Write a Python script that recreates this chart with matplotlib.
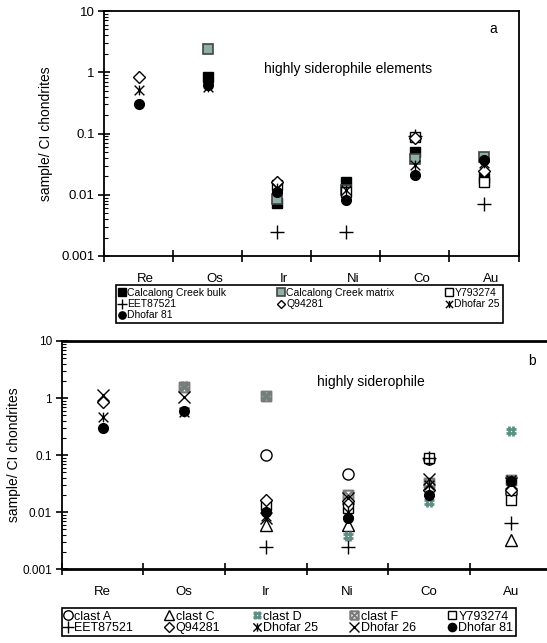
import numpy as np
import matplotlib
matplotlib.use("Agg")
import matplotlib.pyplot as plt
from matplotlib.path import Path

plt.rcParams['font.family'] = ['Liberation Sans', 'DejaVu Sans']

elements = ['Re', 'Os', 'Ir', 'Ni', 'Co', 'Au']
nan = np.nan

# panel a: sample / CI chondrites
a_cc_bulk = [nan, 0.83, 0.0072, 0.016, 0.050, 0.019]
a_cc_matrix = [nan, 2.4, 0.0085, 0.012, 0.039, 0.042]
a_y793274 = [nan, nan, 0.0145, 0.011, 0.088, 0.016]
a_eet87521 = [nan, nan, 0.0025, 0.0025, 0.092, 0.0071]
a_q94281 = [0.85, nan, 0.016, nan, 0.085, 0.024]
a_dhofar25 = [0.51, 0.58, 0.013, 0.012, 0.031, 0.033]
a_dhofar81 = [0.30, 0.63, 0.011, 0.0082, 0.021, 0.037]

# panel b
b_clast_a = [nan, nan, 0.10, 0.047, 0.085, 0.022]
b_clast_c = [nan, nan, 0.0059, 0.006, nan, 0.0032]
b_clast_d = [nan, 1.6, 1.1, 0.0038, 0.015, 0.26]
b_clast_f = [nan, 1.55, 1.1, 0.020, 0.033, 0.037]
b_y793274 = [nan, nan, 0.0135, 0.012, 0.088, 0.0164]
b_eet87521 = [nan, nan, 0.0025, 0.0025, 0.090, 0.0066]
b_q94281 = [0.84, nan, 0.0163, 0.016, 0.025, 0.025]
b_dhofar25 = [0.47, 0.58, 0.0085, 0.010, 0.030, 0.036]
b_dhofar26 = [1.13, 1.06, 0.008, 0.018, 0.038, 0.033]
b_dhofar81 = [0.295, 0.60, 0.0102, 0.008, 0.020, 0.035]

M, L = Path.MOVETO, Path.LINETO
star_x = Path([(-1, -1), (1, 1), (-1, 1), (1, -1), (0, -1), (0, 1)],
              [M, L, M, L, M, L])
hash_m = Path([(-1, -0.4), (1, -0.4), (-1, 0.4), (1, 0.4),
               (-0.4, -1), (-0.4, 1), (0.4, -1), (0.4, 1)],
              [M, L, M, L, M, L, M, L])
box_x = Path([(-1, -1), (1, -1), (1, 1), (-1, 1), (-1, -1),
              (-1, -1), (1, 1), (-1, 1), (1, -1)],
             [M, L, L, L, L, M, L, M, L])

teal = '#8fb0a8'
styles = {
    'Calcalong Creek bulk': dict(marker='s', mfc='black', mec='black', ms=7),
    'Calcalong Creek matrix': dict(marker='s', mfc=teal, mec='#444444', ms=7, mew=1.2),
    'Y793274': dict(marker='s', mfc='white', mec='black', ms=7, mew=1),
    'EET87521': dict(marker='+', mfc='none', mec='black', ms=10, mew=1),
    'Q94281': dict(marker='D', mfc='white', mec='black', ms=6, mew=1),
    'Dhofar 25': dict(marker=star_x, mfc='none', mec='black', ms=7, mew=1),
    'Dhofar 81': dict(marker='o', mfc='black', mec='black', ms=7),
    'clast A': dict(marker='o', mfc='white', mec='black', ms=8, mew=1),
    'clast C': dict(marker='^', mfc='white', mec='black', ms=8, mew=1),
    'clast D': dict(marker=hash_m, mfc='none', mec='#5e8f84', ms=7, mew=2),
    'clast F': dict(marker=box_x, mfc='none', mec='#7a7a7a', ms=7, mew=1.5),
    'Dhofar 26': dict(marker='x', mfc='none', mec='black', ms=9, mew=1),
}

fig = plt.figure(figsize=(5.47, 6.43), dpi=100)
W, H = 547.0, 643.0


def setup(ax, lab_shift):
    ax.set_yscale('log')
    ax.set_ylim(0.001, 10)
    ax.set_xlim(0, 6)
    ax.set_xticks(np.arange(0, 7))
    ax.set_xticklabels([])
    # category names sit a little right of the interval centres
    ax.set_xticks(np.arange(6) + 0.5 + lab_shift, minor=True)
    ax.set_xticklabels(elements, minor=True, fontsize=9.5)
    ax.tick_params(axis='x', which='major', direction='inout', length=9, width=1.2)
    ax.tick_params(axis='x', which='minor', length=0, pad=12)
    ax.set_yticks([0.001, 0.01, 0.1, 1, 10])
    ax.set_yticklabels(['0.001', '0.01', '0.1', '1', '10'], fontsize=9.5)
    ax.tick_params(axis='y', which='major', direction='inout', length=8, width=1.2, pad=3)
    ax.tick_params(axis='y', which='minor', direction='in', length=3, width=0.8)
    ax.yaxis.set_minor_locator(matplotlib.ticker.LogLocator(base=10, subs=np.arange(2, 10)))
    ax.yaxis.set_minor_formatter(matplotlib.ticker.NullFormatter())
    for s in ax.spines.values():
        s.set_linewidth(1.3)
    ax.set_ylabel('sample/ CI chondrites', fontsize=10)


x = np.arange(6) + 0.5

# ---- panel a
ax1 = fig.add_axes([104.3 / W, 1 - 256 / H, 414.2 / W, 245 / H])
setup(ax1, 0.1)
ax1.yaxis.set_label_coords(-0.125, 0.5)
series_a = [('Calcalong Creek bulk', a_cc_bulk), ('Calcalong Creek matrix', a_cc_matrix),
            ('Y793274', a_y793274), ('EET87521', a_eet87521), ('Q94281', a_q94281),
            ('Dhofar 25', a_dhofar25), ('Dhofar 81', a_dhofar81)]
h1 = {}
for name, vals in series_a:
    h1[name], = ax1.plot(x, vals, ls='none', label=name, **styles[name])
fig.text(493 / W, 1 - 29 / H, 'a', fontsize=10, ha='center', va='center')
fig.text(348.5 / W, 1 - 69 / H, 'highly siderophile elements',
         fontsize=10, ha='center', va='center')
order_a = ['Calcalong Creek bulk', 'EET87521', 'Dhofar 81',
           'Calcalong Creek matrix', 'Q94281', 'Y793274', 'Dhofar 25']
lg = fig.legend([h1[n] for n in order_a], order_a, ncol=3, loc='upper left',
                bbox_to_anchor=(116 / W, 1 - 322 / H, (503 - 116) / W, 37 / H), mode='expand',
                fontsize=7.5, frameon=True, fancybox=False, edgecolor='black', framealpha=1,
                handlelength=0.6, handletextpad=0.2, labelspacing=0.1, borderpad=0.3,
                markerscale=0.75, columnspacing=1.0, borderaxespad=0)
lg.get_frame().set_linewidth(1.2)

# ---- panel b
ax2 = fig.add_axes([61.7 / W, 1 - 569.3 / H, 490 / W, 228.3 / H])
setup(ax2, 0.0)
ax2.yaxis.set_label_coords(-0.083, 0.5)
ax2.spines['top'].set_linewidth(2)
ax2.spines['bottom'].set_linewidth(2)
ax2.set_yticklabels(['0.001', '0.01', '0.1', '1', '10'], fontsize=8.5)
series_b = [('clast A', b_clast_a), ('clast C', b_clast_c), ('clast D', b_clast_d),
            ('clast F', b_clast_f), ('Y793274', b_y793274), ('EET87521', b_eet87521),
            ('Q94281', b_q94281), ('Dhofar 25', b_dhofar25), ('Dhofar 26', b_dhofar26),
            ('Dhofar 81', b_dhofar81)]
h2 = {}
for name, vals in series_b:
    h2[name], = ax2.plot(x, vals, ls='none', label=name, **styles[name])
fig.text(532 / W, 1 - 361 / H, 'b', fontsize=10, ha='center', va='center')
fig.text(371 / W, 1 - 382 / H, 'highly siderophile', fontsize=10, ha='center', va='center')
order_b = ['clast A', 'EET87521', 'clast C', 'Q94281', 'clast D', 'Dhofar 25',
           'clast F', 'Dhofar 26', 'Y793274', 'Dhofar 81']
lg2 = fig.legend([h2[n] for n in order_b], order_b, ncol=5, loc='upper left',
                 bbox_to_anchor=(61.7 / W, 1 - 639 / H, (516 - 61.7) / W, 31 / H), mode='expand',
                 fontsize=9, frameon=True, fancybox=False, edgecolor='black', framealpha=1,
                 handlelength=0.6, handletextpad=0.2, labelspacing=-0.05, borderpad=0.2,
                 markerscale=0.85, columnspacing=0.8, borderaxespad=0)
lg2.get_frame().set_linewidth(1.2)

fig.savefig('out.png', dpi=100)
